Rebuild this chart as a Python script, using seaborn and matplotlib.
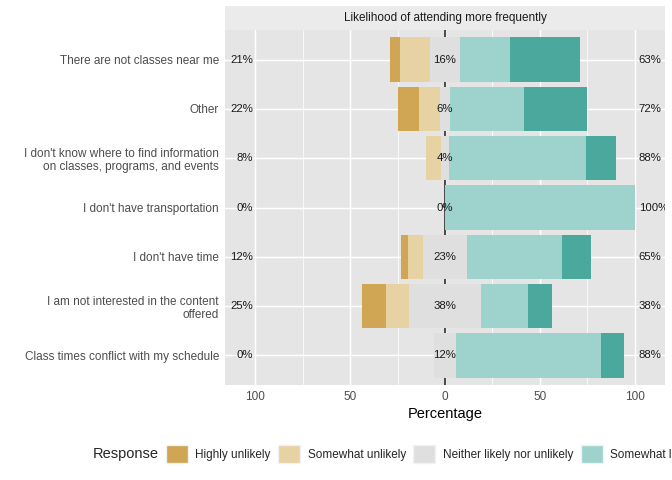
import numpy as np
import pandas as pd
import matplotlib
matplotlib.use("Agg")
import matplotlib.pyplot as plt
import seaborn as sns
from matplotlib.patches import Patch

sns.set_theme(style="darkgrid")
plt.rcParams["font.family"] = ["Liberation Sans", "DejaVu Sans"]

# survey items, top to bottom
items = [
    "There are not classes near me",
    "Other",
    "I don't know where to find information\non classes, programs, and events",
    "I don't have transportation",
    "I don't have time",
    "I am not interested in the content\noffered",
    "Class times conflict with my schedule",
]
levels = ["Highly unlikely", "Somewhat unlikely", "Neither likely nor unlikely",
          "Somewhat likely", "Highly likely"]

# percentages per response level
highly_unlikely = [5.3, 11.1, 0.0, 0.0, 3.85, 12.5, 0.0]
somewhat_unlikely = [15.8, 11.1, 8.0, 0.0, 7.69, 12.5, 0.0]
neutral = [15.8, 5.6, 4.0, 0.0, 23.08, 37.5, 11.76]
somewhat_likely = [26.3, 38.9, 72.0, 100.0, 50.0, 25.0, 76.47]
highly_likely = [36.8, 33.3, 16.0, 0.0, 15.38, 12.5, 11.76]

colors = ["#D0A554", "#E6D2A3", "#DFDFDF", "#9ED2CC", "#4BA89D"]

df = pd.DataFrame({
    "item": items,
    "hu": highly_unlikely,
    "su": somewhat_unlikely,
    "n": neutral,
    "sl": somewhat_likely,
    "hl": highly_likely,
})
# bar ends, diverging around 0 with neutral split in the middle
df["left_n"] = -df["n"] / 2
df["left_su"] = df["left_n"] - df["su"]
df["left_hu"] = df["left_su"] - df["hu"]
df["right_n"] = df["n"] / 2
df["right_sl"] = df["right_n"] + df["sl"]
df["right_hl"] = df["right_sl"] + df["hl"]

fig = plt.figure(figsize=(7, 5), dpi=96)
ax = fig.add_axes([225 / 672, 95 / 480, 440 / 672, 355 / 480])
ax.set_facecolor("#E5E5E5")

# outermost first so inner segments paint over them
for col, c in [("right_hl", colors[4]), ("right_sl", colors[3]), ("right_n", colors[2]),
               ("left_hu", colors[0]), ("left_su", colors[1]), ("left_n", colors[2])]:
    sns.barplot(data=df, x=col, y="item", order=items, orient="h", color=c,
                saturation=1, width=0.9, errorbar=None, linewidth=0, ax=ax)

ax.axvline(0, color="#333333", lw=1.3, zorder=0.9)

# percentage labels
for i in range(len(items)):
    left = df["hu"][i] + df["su"][i]
    right = df["sl"][i] + df["hl"][i]
    ax.text(-101, i, f"{left:.0f}%", ha="right", va="center", fontsize=8.5, color="#1A1A1A")
    ax.text(102, i, f"{right:.0f}%", ha="left", va="center", fontsize=8.5, color="#1A1A1A",
            clip_on=True)
    ax.text(0, i, f"{df['n'][i]:.0f}%", ha="center", va="center", fontsize=8.5, color="#1A1A1A")

ax.set_xlim(-115.8, 115.8)
ax.set_ylim(6.6, -0.6)
ax.set_xticks([-100, -50, 0, 50, 100])
ax.set_xticklabels(["100", "50", "0", "50", "100"])
ax.set_xticks([-75, -25, 25, 75], minor=True)
ax.grid(which="major", color="white", lw=1.1)
ax.grid(which="minor", axis="x", color="white", lw=0.55)
ax.tick_params(axis="both", which="both", length=0, labelsize=8.8, labelcolor="#4D4D4D")
ax.tick_params(axis="x", pad=4.5)
ax.tick_params(axis="y", pad=4.5)
ax.set_ylabel("")
ax.set_xlabel("Percentage", fontsize=11, color="black", labelpad=3)
for s in ax.spines.values():
    s.set_visible(False)

# facet strip
strip = fig.add_axes([225 / 672, 450 / 480, 440 / 672, 24 / 480])
strip.set_facecolor("#EBEBEB")
strip.set_xticks([])
strip.set_yticks([])
strip.grid(False)
for s in strip.spines.values():
    s.set_visible(False)
strip.text(0.5, 0.5, "Likelihood of attending more frequently", ha="center", va="center",
           fontsize=8.8, color="#1A1A1A", transform=strip.transAxes)

# legend along the bottom (runs off the right edge like the original)
fig.text(93 / 672, 26 / 480, "Response", fontsize=11, ha="left", va="center")
handles = [Patch(facecolor=c, edgecolor="#F2F2F2", lw=1) for c in colors]
fig.legend(handles, levels, loc="center left", bbox_to_anchor=(166 / 672, 26 / 480),
           ncol=5, frameon=False, fontsize=8.8, handlelength=1.875, handleheight=1.875,
           handletextpad=0.62, columnspacing=0.65, borderpad=0, borderaxespad=0)

fig.savefig("out.png", dpi=96)
